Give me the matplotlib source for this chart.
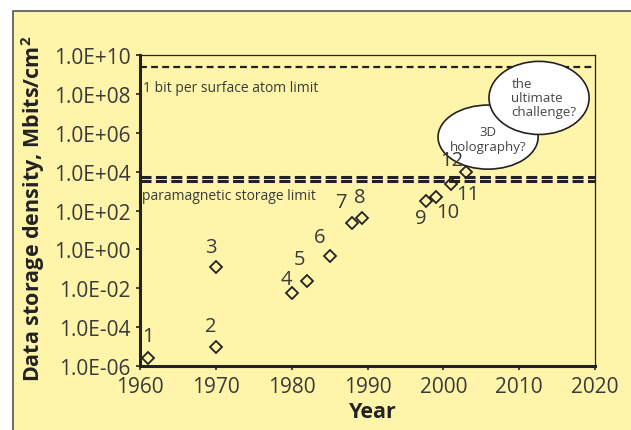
import numpy as np
import matplotlib
matplotlib.use('Agg')
import matplotlib.pyplot as plt
from matplotlib.patches import Ellipse, Rectangle
from matplotlib.ticker import FixedLocator, FuncFormatter, NullLocator

plt.rcParams['font.family'] = ['Open Sans', 'DejaVu Sans']
plt.rcParams['mathtext.fontset'] = 'custom'
plt.rcParams['mathtext.bf'] = 'Open Sans:bold'

# data
years = [1961, 1970, 1970, 1980, 1982, 1985, 1988, 1989.3, 1997.7, 1999, 2001, 2003]
density = [2.7e-6, 9e-6, 0.13, 5.6e-3, 0.025, 0.45, 22, 41, 310, 490, 2200, 1.0e4]
point_labels = ['1', '2', '3', '4', '5', '6', '7', '8', '9', '10', '11', '12']

atom_limit = 2.4e9
para_limits = [5.2e3, 3.3e3]

x_ticks = [1960, 1970, 1980, 1990, 2000, 2010, 2020]
y_ticks = [1e-6, 1e-4, 1e-2, 1e0, 1e2, 1e4, 1e6, 1e8, 1e10]

# label offsets in pixels (dx, dy)
offsets = [(0, 22), (-5, 21), (-5, 20), (-5, 14), (-7, 22), (-10, 19),
           (-11, 21), (-2, 21), (-5, -17), (12, -15), (17, -10), (-14, 12)]

yellow = '#fff5aa'
ink = '#222222'
txt = '#3a3a3a'

fig = plt.figure(figsize=(6.31, 4.31), dpi=100)
fig.patch.set_facecolor('white')

# yellow panel with a frame on top/left
panel = Rectangle((13.3 / 631, -0.1), 1.2, 1.1 - 12.3 / 431,
                  transform=fig.transFigure, facecolor=yellow,
                  edgecolor='#555555', lw=1.2, zorder=-5)
fig.add_artist(panel)

ax = fig.add_axes([140 / 631, 64 / 431, 455 / 631, 311 / 431])
ax.set_facecolor('none')
ax.set_yscale('log')
ax.set_xlim(1960, 2020)
ax.set_ylim(1e-6, 1e10)

ax.plot(years, density, linestyle='none', marker='D', markersize=6,
        markerfacecolor='none', markeredgecolor=ink, markeredgewidth=1.3,
        clip_on=False, zorder=3)

for x, y, lab, (dx, dy) in zip(years, density, point_labels, offsets):
    ax.annotate(lab, (x, y), xytext=(dx, dy), textcoords='offset pixels',
                ha='center', va='center', fontsize=14.5, color=txt, zorder=6)

ax.axhline(atom_limit, color=ink, lw=1.6, dashes=(3.1, 1.9), zorder=2)
for v in para_limits:
    ax.axhline(v, color=ink, lw=2.2, dashes=(3.6, 1.45), zorder=2)

ax.text(0.007, 0.895, '1 bit per surface atom limit', transform=ax.transAxes,
        fontsize=10, color=txt, va='center', ha='left')
ax.text(0.005, 0.547, 'paramagnetic storage limit', transform=ax.transAxes,
        fontsize=10, color=txt, va='center', ha='left')

# speech bubbles
e1 = Ellipse((0.765, 0.736), 0.22, 0.206, transform=ax.transAxes,
             facecolor='white', edgecolor=ink, lw=1.2, zorder=4, clip_on=False)
e2 = Ellipse((0.877, 0.862), 0.22, 0.235, transform=ax.transAxes,
             facecolor='white', edgecolor=ink, lw=1.2, zorder=4.5, clip_on=False)
ax.add_patch(e1)
ax.add_patch(e2)
ax.text(0.765, 0.73, '3D\nholography?', transform=ax.transAxes, ha='center',
        va='center', fontsize=9.5, color='#444444', linespacing=1.25, zorder=7)
ax.text(0.816, 0.862, 'the\nultimate\nchallenge?', transform=ax.transAxes,
        ha='left', va='center', fontsize=9.5, color='#444444',
        linespacing=1.1, zorder=7)

ax.xaxis.set_major_locator(FixedLocator(x_ticks))
ax.yaxis.set_major_locator(FixedLocator(y_ticks))
ax.yaxis.set_minor_locator(NullLocator())
ax.yaxis.set_major_formatter(FuncFormatter(lambda v, p: '%.1E' % v))
ax.tick_params(axis='both', direction='out', length=3, width=1.2, color=ink,
               labelsize=15, labelcolor=txt, pad=4)

for side in ['left', 'bottom']:
    ax.spines[side].set_linewidth(2.2)
    ax.spines[side].set_color(ink)
for side in ['top', 'right']:
    ax.spines[side].set_linewidth(0.9)
    ax.spines[side].set_color(ink)

fig.text(33 / 631, 1 - 209 / 431, r'Data storage density, Mbits/cm$^\mathbf{2}$',
         rotation=90, ha='center', va='center', fontsize=15.5,
         fontweight='bold', color=ink)
fig.text(373 / 631, 1 - 413 / 431, 'Year', ha='center', va='center',
         fontsize=15.5, fontweight='bold', color=ink)

fig.savefig('out.png', dpi=100)
